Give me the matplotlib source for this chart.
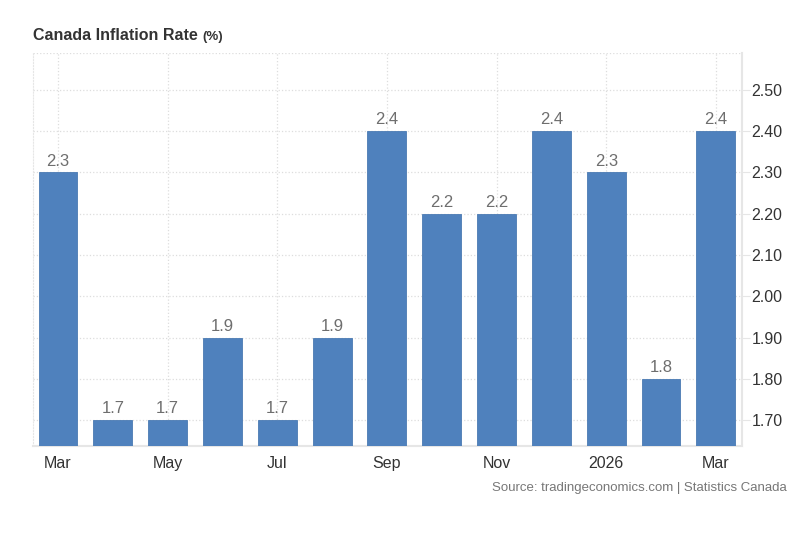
import matplotlib.pyplot as plt

plt.rcParams['font.family'] = ['Liberation Sans', 'DejaVu Sans']

# Data
months = ['Mar', 'Apr', 'May', 'Jun', 'Jul', 'Aug', 'Sep', 'Oct', 'Nov', 'Dec', '2026', 'Feb', 'Mar']
values = [2.3, 1.7, 1.7, 1.9, 1.7, 1.9, 2.4, 2.2, 2.2, 2.4, 2.3, 1.8, 2.4]
tick_idx = [0, 2, 4, 6, 8, 10, 12]
y_ticks = [1.70, 1.80, 1.90, 2.00, 2.10, 2.20, 2.30, 2.40, 2.50]

fig = plt.figure(figsize=(8, 5.46), dpi=100)
ax = fig.add_axes([0.041, 0.183, 0.886, 0.7205])

x = list(range(len(values)))
ax.bar(x, values, width=0.71, color='#4f81bd', edgecolor='#4a7ab3', linewidth=0.6, zorder=3)

# value labels
for i, v in enumerate(values):
    ax.text(i, v + 0.009, f'{v:.1f}', ha='center', va='bottom', fontsize=12, color='#6e6e6e', zorder=4)

ax.set_xlim(-0.46, 12.47)
ax.set_ylim(1.637, 2.59)

ax.set_xticks(tick_idx)
ax.set_xticklabels([months[i] for i in tick_idx])
ax.set_yticks(y_ticks)
ax.set_yticklabels([f'{t:.2f}' for t in y_ticks])
ax.yaxis.tick_right()

ax.tick_params(axis='x', length=0, labelsize=11.5, labelcolor='#333333', pad=7)
ax.tick_params(axis='y', length=6, color='#e6e6e6', labelsize=11.5, labelcolor='#333333', pad=1)

ax.grid(True, color='#dddddd', linestyle=':', linewidth=0.9, zorder=0)
ax.set_axisbelow(True)

ax.spines['top'].set_visible(False)
ax.spines['left'].set_color('#e6e6e6')
ax.spines['left'].set_linestyle(':')
ax.spines['right'].set_color('#e6e6e6')
ax.spines['right'].set_linewidth(1.5)
ax.spines['bottom'].set_color('#e6e6e6')
ax.spines['bottom'].set_linewidth(1.5)
ax.axhline(2.59, color='#dddddd', linestyle=':', linewidth=0.9, zorder=0)

t = fig.text(0.041, 0.935, 'Canada Inflation Rate', fontsize=11.5, fontweight='bold', color='#333333', va='center')
fig.canvas.draw()
bb = t.get_window_extent()
fig.text((bb.x1 + 5) / 800, 0.933, '(%)', fontsize=9.5, fontweight='bold', color='#333333', va='center')
fig.text(0.983, 0.107, 'Source: tradingeconomics.com | Statistics Canada', fontsize=9.5, color='#777777', ha='right', va='center')

fig.savefig('out.png', dpi=100)
